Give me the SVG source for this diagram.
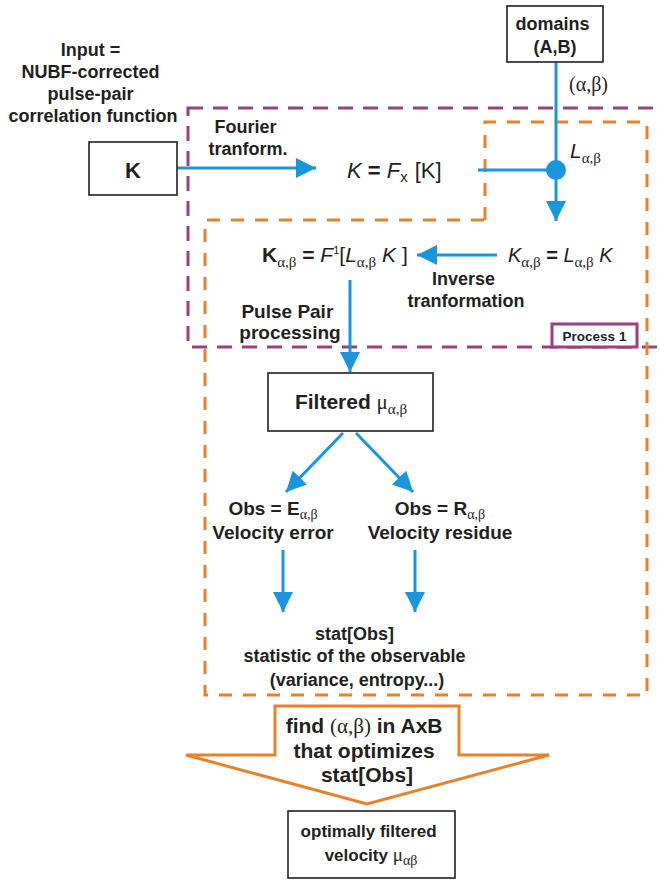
<svg xmlns="http://www.w3.org/2000/svg" width="660" height="880" viewBox="0 0 660 880">
<defs>
<style>
.t{font-family:"Liberation Sans",Arial,sans-serif;font-weight:bold;fill:#231f20;}
.m{font-family:"Liberation Sans",Arial,sans-serif;fill:#231f20;}
.g{font-family:"Liberation Serif","Times New Roman",serif;font-weight:normal;}
.it{font-style:italic;font-weight:normal;}
.box{fill:#fff;stroke:#231f20;stroke-width:1.6;}
.conn{stroke:#1a96dc;stroke-width:3;fill:none;}
.arr{marker-end:url(#ah);}
.purple{fill:none;stroke:#9a3f82;stroke-width:3;stroke-dasharray:15 10;}
.orange{fill:none;stroke:#e8822a;stroke-width:3;stroke-dasharray:13 11;}
</style>
<marker id="ah" markerUnits="userSpaceOnUse" viewBox="0 0 20 20" markerWidth="20" markerHeight="20" refX="20" refY="10" orient="auto">
<path d="M0,0 L20,10 L0,20 z" fill="#1a96dc"/>
</marker>
</defs>
<rect width="660" height="880" fill="#fff"/>

<g id="regions">
<rect class="purple" x="188" y="108" width="490" height="239"/>
<path class="orange" d="M485,220 L485,122 L647,122 L647,695 L205,695 L205,220 Z"/>
</g>

<g id="connectors">
<line class="conn arr" x1="177" y1="168" x2="316" y2="168"/>
<line class="conn arr" x1="556" y1="62" x2="556" y2="221"/>
<line class="conn" x1="478" y1="170" x2="556" y2="170"/>
<circle cx="556" cy="170" r="10" fill="#1a96dc"/>
<line class="conn arr" x1="497" y1="255" x2="417" y2="255"/>
<line class="conn arr" x1="350" y1="280" x2="350" y2="372"/>
<line class="conn arr" x1="343" y1="433" x2="286" y2="492"/>
<line class="conn arr" x1="356" y1="433" x2="413" y2="492"/>
<line class="conn arr" x1="283" y1="550" x2="283" y2="612"/>
<line class="conn arr" x1="415" y1="550" x2="415" y2="612"/>
</g>

<g id="input-label">
<text class="t" font-size="18" text-anchor="middle">
<tspan x="93" y="56">Input =</tspan>
<tspan x="93" y="78">NUBF-corrected</tspan>
<tspan x="93" y="100">pulse-pair</tspan>
<tspan x="93" y="122">correlation function</tspan>
</text>
</g>

<g id="node-K">
<rect class="box" x="89" y="142" width="88" height="53"/>
<text class="t" font-size="22" x="133" y="178" text-anchor="middle">K</text>
</g>

<g id="fourier-label">
<text class="t" font-size="18" text-anchor="middle">
<tspan x="248" y="133">Fourier</tspan>
<tspan x="248" y="155">tranform.</tspan>
</text>
</g>

<g id="node-fourier">
<text class="m" font-size="22" x="347" y="178"><tspan class="it">K</tspan><tspan font-weight="bold"> = </tspan><tspan class="it">F</tspan><tspan font-size="15" dy="4">x</tspan><tspan dy="-4" dx="7">[K]</tspan></text>
</g>

<g id="node-domains">
<rect class="box" x="507" y="6" width="96" height="56"/>
<text class="t" font-size="18" text-anchor="middle">
<tspan x="555" y="30">domains</tspan>
<tspan x="555" y="53">(A,B)</tspan>
</text>
</g>

<g id="alphabeta-label">
<text class="m g" font-size="20" x="569" y="91">(α,β)</text>
</g>

<g id="L-label">
<text class="m" font-size="21" x="570" y="158"><tspan class="it">L</tspan><tspan class="g" font-size="15" dy="5">α,β</tspan></text>
</g>

<g id="node-Kab-right">
<text class="m" font-size="20" x="508" y="262"><tspan class="it">K</tspan><tspan class="g" font-size="15" dy="5">α,β</tspan><tspan font-weight="bold" dy="-5"> = </tspan><tspan class="it">L</tspan><tspan class="g" font-size="15" dy="5">α,β</tspan><tspan class="it" dy="-5"> K</tspan></text>
</g>

<g id="node-Kab-left">
<text class="m" font-size="21" x="262" y="262"><tspan font-weight="bold">K</tspan><tspan class="g" font-size="15" dy="5">α,β</tspan><tspan font-weight="bold" dy="-5"> = </tspan><tspan class="it">F</tspan><tspan font-size="11" dy="-8">1</tspan><tspan dy="8">[</tspan><tspan class="it">L</tspan><tspan class="g" font-size="15" dy="5">α,β</tspan><tspan class="it" dy="-5"> K</tspan><tspan dx="6">]</tspan></text>
</g>

<g id="inverse-label">
<text class="t" font-size="18" text-anchor="middle">
<tspan x="466" y="285">Inverse</tspan>
<tspan x="466" y="307">tranformation</tspan>
</text>
</g>

<g id="pulse-label">
<text class="t" font-size="19" text-anchor="middle">
<tspan x="290" y="318">Pulse Pair</tspan>
<tspan x="290" y="339">processing</tspan>
</text>
</g>

<g id="process1">
<rect x="552" y="324" width="85" height="23" fill="#fff" stroke="#9a3f82" stroke-width="3"/>
<text class="t" font-size="13.5" x="594.5" y="341" text-anchor="middle">Process 1</text>
</g>

<g id="node-filtered">
<rect class="box" x="268" y="373" width="165" height="58"/>
<text class="t" font-size="21" x="351" y="409" text-anchor="middle">Filtered <tspan class="g">μ</tspan><tspan class="g" font-size="15" dy="5">α,β</tspan></text>
</g>

<g id="node-obsE">
<text class="t" font-size="19" x="273" y="515" text-anchor="middle">Obs = E<tspan class="g" font-size="14" dy="4">α,β</tspan></text>
<text class="t" font-size="19" x="273" y="539" text-anchor="middle">Velocity error</text>
</g>

<g id="node-obsR">
<text class="t" font-size="19" x="440" y="515" text-anchor="middle">Obs = R<tspan class="g" font-size="14" dy="4">α,β</tspan></text>
<text class="t" font-size="19" x="440" y="539" text-anchor="middle">Velocity residue</text>
</g>

<g id="node-stat">
<text class="t" font-size="18" text-anchor="middle">
<tspan x="357" y="640">stat[Obs]</tspan>
<tspan x="357" y="662">statistic of the observable</tspan>
<tspan x="357" y="686">(variance, entropy...)</tspan>
</text>
</g>

<g id="node-optimize">
<path d="M275,706 L459,706 L459,755 L549,755 L367,804 L186,755 L275,755 Z" fill="#fff" stroke="#e8822a" stroke-width="3"/>
<text class="t" font-size="21" text-anchor="middle">
<tspan x="367" y="733">find <tspan class="g">(α,β)</tspan> in AxB</tspan>
<tspan x="367" y="758">that optimizes</tspan>
<tspan x="367" y="782">stat[Obs]</tspan>
</text>
</g>

<g id="node-result">
<rect class="box" x="288" y="811" width="167" height="67"/>
<text class="t" font-size="17" text-anchor="middle">
<tspan x="371" y="837">optimally filtered</tspan>
<tspan x="371" y="861">velocity <tspan class="g" font-size="19">μ</tspan><tspan class="g" font-size="14" dy="4">αβ</tspan></tspan>
</text>
</g>
</svg>
